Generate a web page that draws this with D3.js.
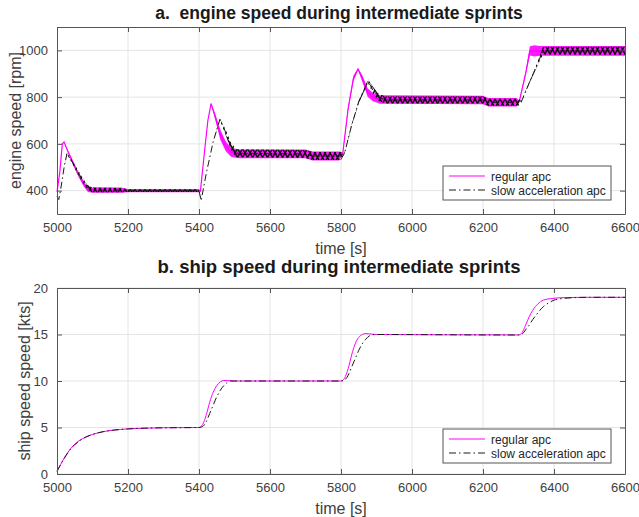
<!DOCTYPE html>
<html>
<head>
<meta charset="utf-8">
<script src="https://cdn.jsdelivr.net/npm/d3@7"></script>
<style>
  body { margin: 0; background: #fff; }
  svg { font-family: "Liberation Sans", Arial, sans-serif; }
  .tick text { fill: #404040; font-size: 13px; }
</style>
</head>
<body>
<script>
// ---- data ----
const xTicks = [5000, 5200, 5400, 5600, 5800, 6000, 6200, 6400, 6600];
const rpmTicks = [400, 600, 800, 1000];
const ktsTicks = [0, 5, 10, 15, 20];

// engine speed, regular apc: time, centre rpm, half width of the ripple band
const rpmRegT = [5000,5008,5015,5020,5030,5045,5060,5075,5087,5100,5180,5200,5400,5404,5415,5425,5434,5445,5460,5475,5490,5510,5700,5720,5795,5805,5820,5835,5848,5860,5875,5890,5910,6200,6215,6295,6302,6320,6332,6345,6360,6600];
const rpmRegV = [395,480,600,608,570,520,470,430,405,402,402,400,400,398,560,700,772,720,640,590,565,557,557,548,548,560,750,880,920,880,820,800,790,788,778,778,780,900,998,998,998,998];
const rpmRegB = [0,0,0,0,5,8,10,11,11,11,11,7,7,0,0,0,3,12,22,21,20,19,19,19,19,4,8,12,4,14,18,18,18,18,18,18,3,8,20,24,21,21];

// engine speed, slow acceleration apc
const rpmSlowT = [5000,5005,5012,5020,5028,5040,5055,5070,5085,5100,5180,5200,5400,5406,5420,5440,5459,5475,5490,5505,5700,5720,5800,5810,5830,5850,5876,5890,5905,5925,6200,6215,6300,6308,6330,6350,6369,6600];
const rpmSlowV = [375,362,420,500,558,530,490,450,415,403,402,400,400,357,470,610,705,650,590,560,557,548,548,560,680,780,868,830,800,788,788,778,778,780,860,930,998,998];
const rpmSlowB = [0,0,0,0,3,6,9,10,10,10,9,6,6,0,0,0,4,12,16,17,17,17,17,3,4,6,8,14,15,15,15,15,15,3,4,6,16,17];

// ship speed [kts]
const ktsRegT = [5000,5010,5020,5030,5040,5050,5065,5080,5100,5130,5160,5200,5250,5300,5400,5410,5420,5430,5440,5450,5460,5470,5480,5500,5800,5810,5820,5830,5840,5850,5860,5870,5885,5900,6300,6310,6320,6330,6340,6355,6370,6390,6420,6500,6600];
const ktsRegV = [0.3,1.0,1.7,2.3,2.8,3.2,3.65,3.95,4.25,4.55,4.72,4.85,4.93,4.97,5.0,5.3,6.3,7.7,8.8,9.5,9.9,10.05,10.05,10.0,10.0,10.3,11.3,12.8,14.0,14.7,15.0,15.1,15.05,15.0,14.95,15.2,16.0,16.9,17.6,18.3,18.7,18.85,18.95,19.0,19.0];
const ktsSlowT = [5000,5010,5020,5030,5040,5050,5065,5080,5100,5130,5160,5200,5250,5300,5400,5410,5420,5430,5440,5450,5460,5470,5480,5490,5500,5800,5810,5820,5830,5840,5850,5860,5870,5880,5895,6300,6310,6320,6330,6340,6350,6360,6370,6385,6400,6420,6450,6500,6600];
const ktsSlowV = [0.3,1.0,1.65,2.25,2.75,3.15,3.6,3.95,4.25,4.55,4.72,4.85,4.93,4.97,5.0,5.1,5.6,6.5,7.4,8.3,9.0,9.5,9.85,10.0,10.0,10.0,10.1,10.6,11.5,12.4,13.3,14.0,14.5,14.85,15.0,14.95,15.05,15.5,16.0,16.6,17.1,17.6,18.0,18.4,18.7,18.85,18.95,19.0,19.0];

const seriesNames = ["regular apc", "slow acceleration apc"];
const magenta = "#ff00ff";
const dark = "#1a1a1a";

const W = 639, H = 517;
const svg = d3.select("body").append("svg").attr("width", W).attr("height", H);

// dense zigzag ripple drawn as a cross hatch
const defs = svg.append("defs");
const hatch = defs.append("pattern")
    .attr("id", "hatch")
    .attr("patternUnits", "userSpaceOnUse")
    .attr("width", 5).attr("height", 9);
hatch.append("path")
    .attr("d", "M0,0 L5,9 M0,9 L5,0")
    .attr("stroke", "#111").attr("stroke-width", 1.5).attr("fill", "none");

function panel(top, bottom, yDomain, yTicks, title, titleCfg, yLabel, legendTop) {
    const x = d3.scaleLinear().domain([5000, 6600]).range([57, 625]);
    const y = d3.scaleLinear().domain(yDomain).range([bottom, top]);
    const g = svg.append("g");

    // grid
    g.append("g").selectAll("line").data(xTicks.slice(1, -1)).enter().append("line")
        .attr("x1", d => x(d)).attr("x2", d => x(d))
        .attr("y1", top).attr("y2", bottom)
        .attr("stroke", "#e4e4e4");
    g.append("g").selectAll("line").data(yTicks).enter().append("line")
        .attr("x1", 57).attr("x2", 625)
        .attr("y1", d => y(d)).attr("y2", d => y(d))
        .attr("stroke", "#e4e4e4");

    const plot = g.append("g");

    // axes, ticks point inwards like matlab
    const fmt = d3.format("d");
    const xAxis = d3.axisBottom(x).tickValues(xTicks).tickFormat(fmt)
        .tickSizeInner(-5).tickSizeOuter(0).tickPadding(9);
    const yAxis = d3.axisLeft(y).tickValues(yTicks).tickFormat(fmt)
        .tickSizeInner(-5).tickSizeOuter(0).tickPadding(9);
    g.append("g").attr("transform", `translate(0,${bottom})`).call(xAxis);
    g.append("g").attr("transform", `translate(0,${top})`)
        .call(d3.axisTop(x).tickValues(xTicks).tickSizeInner(-5).tickSizeOuter(0).tickFormat(""));
    g.append("g").attr("transform", "translate(57,0)").call(yAxis);
    g.append("g").attr("transform", "translate(625,0)")
        .call(d3.axisRight(y).tickValues(yTicks).tickSizeInner(-5).tickSizeOuter(0).tickFormat(""));
    g.selectAll(".domain").attr("stroke", "#555");
    g.selectAll(".tick line").attr("stroke", "#555");

    g.append("text").attr("x", 339).attr("y", titleCfg.y)
        .attr("text-anchor", "middle").attr("font-weight", "bold")
        .attr("font-size", titleCfg.size).attr("fill", "#1a1a1a")
        .style("white-space", "pre").text(title);
    g.append("text").attr("x", 341).attr("y", bottom + 40)
        .attr("text-anchor", "middle").attr("font-size", 16).attr("fill", "#404040").text("time [s]");
    g.append("text").attr("transform", `translate(${yLabel.x},${(top + bottom) / 2}) rotate(-90)`)
        .attr("text-anchor", "middle").attr("font-size", 16).attr("fill", "#404040").text(yLabel.text);

    // legend
    const lg = g.append("g").attr("transform", `translate(443,${legendTop})`);
    lg.append("rect").attr("width", 168).attr("height", 34)
        .attr("fill", "#fff").attr("stroke", "#555");
    seriesNames.forEach((name, i) => {
        const yy = 10 + i * 14;
        lg.append("line").attr("x1", 6).attr("x2", 42).attr("y1", yy).attr("y2", yy)
            .attr("stroke", i ? dark : magenta).attr("stroke-width", 1)
            .attr("stroke-dasharray", i ? "7,3,1.5,3" : null);
        lg.append("text").attr("x", 48).attr("y", yy + 4.5)
            .attr("font-size", 12).attr("fill", "#262626").text(name);
    });

    return {x, y, plot};
}

// ---- a. engine speed ----
const a = panel(27, 214, [300, 1100], rpmTicks,
    "a.  engine speed during intermediate sprints", {y: 19, size: 17.5},
    {x: 21, text: "engine speed [rpm]"}, 166);

const rpmReg = rpmRegT.map((t, i) => ({t, v: rpmRegV[i], b: rpmRegB[i]}));
const rpmSlow = rpmSlowT.map((t, i) => ({t, v: rpmSlowV[i], b: rpmSlowB[i]}));

const band = d3.area().x(d => a.x(d.t)).y0(d => a.y(d.v - d.b)).y1(d => a.y(d.v + d.b));
const lineA = d3.line().x(d => a.x(d.t)).y(d => a.y(d.v));

a.plot.append("path").datum(rpmReg).attr("d", band)
    .attr("fill", magenta).attr("fill-opacity", 0.9);
a.plot.append("path").datum(rpmReg).attr("d", lineA)
    .attr("fill", "none").attr("stroke", magenta).attr("stroke-width", 1.2);
a.plot.append("path").datum(rpmSlow).attr("d", band)
    .attr("fill", "url(#hatch)");
a.plot.append("path").datum(rpmSlow).attr("d", lineA)
    .attr("fill", "none").attr("stroke", dark).attr("stroke-width", 1)
    .attr("stroke-dasharray", "7,3,1.5,3");

// ---- b. ship speed ----
const b = panel(288, 474, [0, 20], ktsTicks,
    "b. ship speed during intermediate sprints", {y: 273, size: 18.5},
    {x: 30, text: "ship speed speed [kts]"}, 429);

const lineB = d3.line().x(d => b.x(d.t)).y(d => b.y(d.v)).curve(d3.curveMonotoneX);
const ktsReg = ktsRegT.map((t, i) => ({t, v: ktsRegV[i]}));
const ktsSlow = ktsSlowT.map((t, i) => ({t, v: ktsSlowV[i]}));

b.plot.append("path").datum(ktsReg).attr("d", lineB)
    .attr("fill", "none").attr("stroke", magenta).attr("stroke-width", 1);
b.plot.append("path").datum(ktsSlow).attr("d", lineB)
    .attr("fill", "none").attr("stroke", dark).attr("stroke-width", 1)
    .attr("stroke-dasharray", "7,3,1.5,3");
</script>
</body>
</html>
